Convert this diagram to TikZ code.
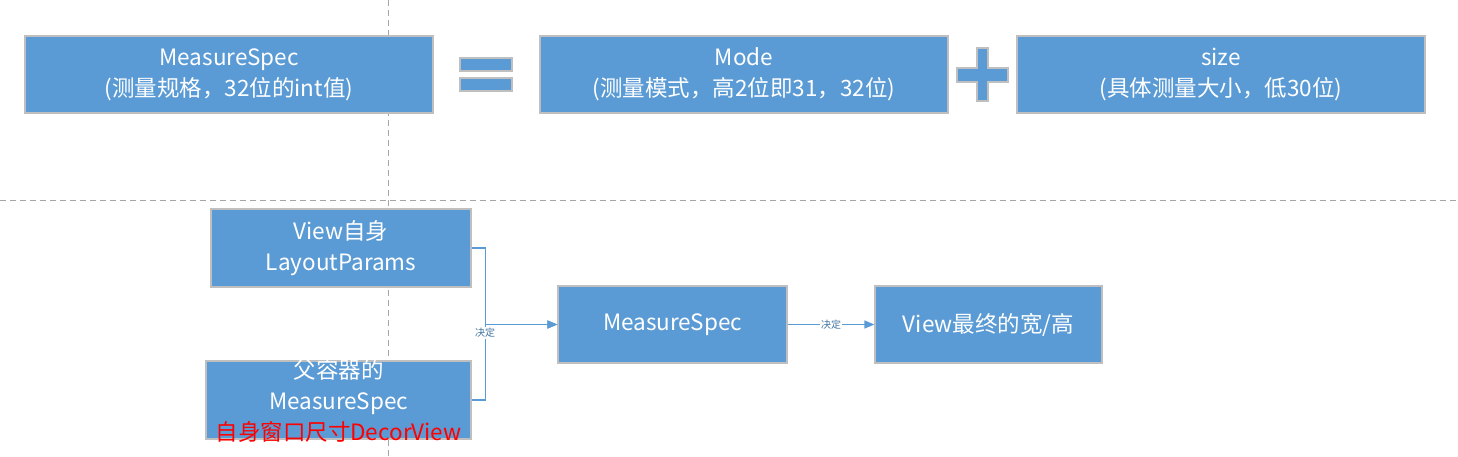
\documentclass[tikz,border=0pt]{standalone}
\usepackage{fontspec}
\setmainfont{Noto Sans CJK SC}
\usetikzlibrary{arrows.meta}
\definecolor{boxblue}{HTML}{5B9BD5}
\definecolor{boxline}{HTML}{BFBFBF}
\definecolor{dashgray}{HTML}{A6A6A6}
\tikzset{
  bluebox/.style={draw=boxline, line width=1.2pt, fill=boxblue, text=white, align=center, inner sep=0pt,
    font=\fontsize{22.5}{31}\selectfont},
  conn/.style={draw=boxblue, line width=1.2pt, -{Triangle[length=10pt,width=8pt]}},
  lbl/.style={fill=white, text=boxblue!75!black, inner sep=1pt, font=\fontsize{10}{11}\selectfont},
  guide/.style={draw=dashgray, line width=0.8pt, dash pattern=on 6pt off 4pt},
  symbol/.style={draw=boxline, line width=1.2pt, fill=boxblue}
}
\begin{document}
\begin{tikzpicture}[x=1pt,y=-1pt]
\useasboundingbox (0,0) rectangle (1458,456);
% guide lines
\draw[guide] (388,0) -- (388,456);
\draw[guide] (0,200) -- (1458,200);
% top row
\node[bluebox, minimum width=408pt, minimum height=77pt] (spec) at (229,74.5) {MeasureSpec\\(测量规格，32位的int值)};
\node[bluebox, minimum width=408pt, minimum height=77pt] (mode) at (744,74.5) {Mode\\(测量模式，高2位即31，32位)};
\node[bluebox, minimum width=408pt, minimum height=77pt] (size) at (1221,74.5) {size\\(具体测量大小，低30位)};
% equals sign
\draw[symbol] (460,58) rectangle (512,71);
\draw[symbol] (460,78) rectangle (512,91);
% plus sign
\draw[symbol] (977,48) -- (988,48) -- (988,68) -- (1008,68) -- (1008,82) -- (988,82) -- (988,101)
  -- (977,101) -- (977,82) -- (957,82) -- (957,68) -- (977,68) -- cycle;
% bottom part
\node[bluebox, minimum width=260pt, minimum height=78pt] (self) at (341,248) {View自身\\LayoutParams};
\node[bluebox, minimum width=265pt, minimum height=78pt] (parent) at (338.5,400) {};
\node[text=white, align=center, font=\fontsize{22.5}{31}\selectfont] (parenttext) at (338.5,401)
  {父容器的\\MeasureSpec\\\textcolor{red}{自身窗口尺寸DecorView}};
\node[bluebox, minimum width=229pt, minimum height=77pt] (ms) at (672.5,324.5) {MeasureSpec};
\node[bluebox, minimum width=227pt, minimum height=77pt] (final) at (988.5,324.5) {View最终的宽/高};
% connectors
\draw[conn] (self.east) -- ++(14,0) |- (ms.west);
\draw[conn] (parent.east) -- ++(14,0) |- (ms.west);
\node[lbl] (l1) at (485,333) {决定};
\draw[conn] (ms.east) -- node[lbl] (l2) {决定} (final.west);
\end{tikzpicture}
\end{document}
